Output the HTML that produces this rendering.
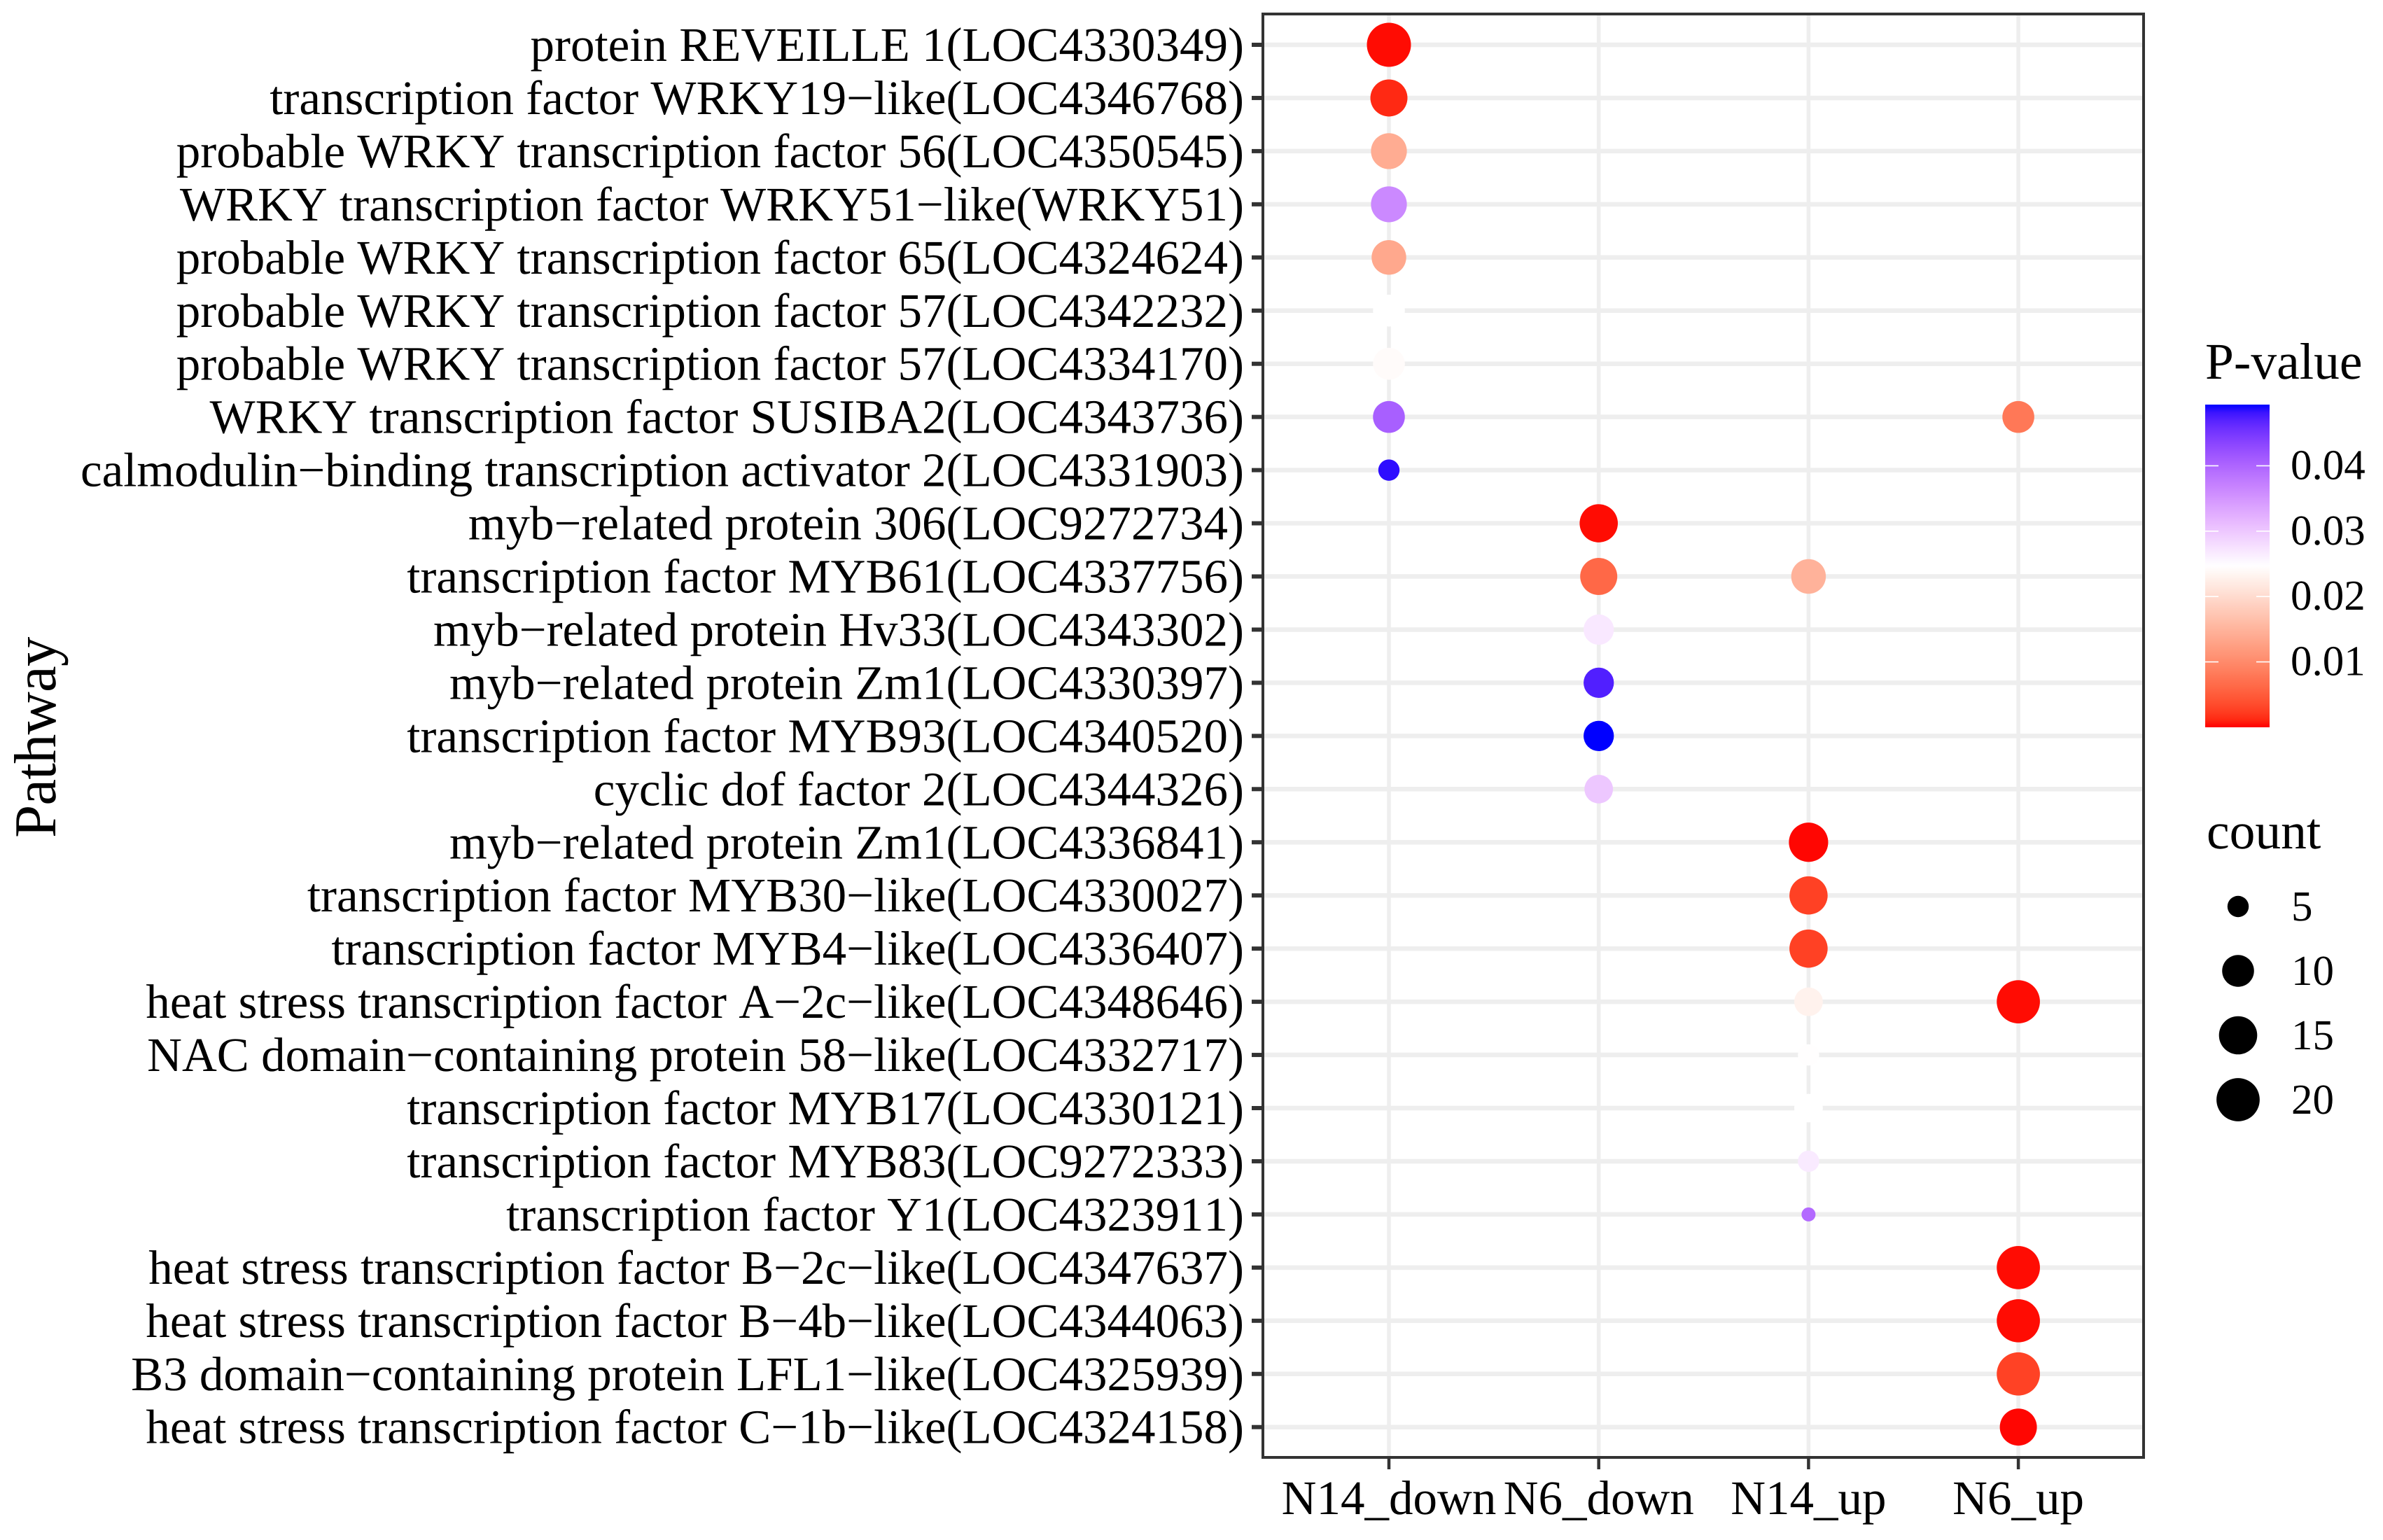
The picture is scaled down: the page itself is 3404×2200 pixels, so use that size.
<!DOCTYPE html>
<html lang="en">
<head>
<meta charset="utf-8">
<title>Pathway bubble chart</title>
<style>
  html, body { margin: 0; padding: 0; background: #fff; }
  svg { display: block; }
  text { font-family: "Liberation Serif", "Times New Roman", serif; fill: #000; text-rendering: geometricPrecision; }
  .nokern { font-kerning: none; }
</style>
</head>
<body>
<svg id="chart" xmlns="http://www.w3.org/2000/svg" width="3404" height="2200" viewBox="0 0 3404 2200">
  <rect x="0" y="0" width="3404" height="2200" fill="#ffffff"/>
  <g id="grid"></g>
  <g id="points"></g>
  <rect x="1804" y="20" width="1258" height="2062" fill="none" stroke="#333333" stroke-width="4"/>
  <g id="yaxis"></g>
  <g id="xaxis"></g>
  <text transform="translate(79,1197) rotate(-90)" font-size="85" letter-spacing="-0.9">Pathway</text>
  <text x="3150" y="541" font-size="73.5">P-value</text>
  <defs><linearGradient id="pGradient" x1="0" y1="1" x2="0" y2="0"></linearGradient></defs>
  <rect x="3150" y="578" width="92" height="461" fill="url(#pGradient)"/>
  <g id="colorLegend"></g>
  <text x="3152" y="1212" font-size="73.5">count</text>
  <g id="sizeLegend"></g>
</svg>
<script>
const pathways = [
  "protein REVEILLE 1(LOC4330349)",
  "transcription factor WRKY19\u2212like(LOC4346768)",
  "probable WRKY transcription factor 56(LOC4350545)",
  "WRKY transcription factor WRKY51\u2212like(WRKY51)",
  "probable WRKY transcription factor 65(LOC4324624)",
  "probable WRKY transcription factor 57(LOC4342232)",
  "probable WRKY transcription factor 57(LOC4334170)",
  "WRKY transcription factor SUSIBA2(LOC4343736)",
  "calmodulin\u2212binding transcription activator 2(LOC4331903)",
  "myb\u2212related protein 306(LOC9272734)",
  "transcription factor MYB61(LOC4337756)",
  "myb\u2212related protein Hv33(LOC4343302)",
  "myb\u2212related protein Zm1(LOC4330397)",
  "transcription factor MYB93(LOC4340520)",
  "cyclic dof factor 2(LOC4344326)",
  "myb\u2212related protein Zm1(LOC4336841)",
  "transcription factor MYB30\u2212like(LOC4330027)",
  "transcription factor MYB4\u2212like(LOC4336407)",
  "heat stress transcription factor A\u22122c\u2212like(LOC4348646)",
  "NAC domain\u2212containing protein 58\u2212like(LOC4332717)",
  "transcription factor MYB17(LOC4330121)",
  "transcription factor MYB83(LOC9272333)",
  "transcription factor Y1(LOC4323911)",
  "heat stress transcription factor B\u22122c\u2212like(LOC4347637)",
  "heat stress transcription factor B\u22124b\u2212like(LOC4344063)",
  "B3 domain\u2212containing protein LFL1\u2212like(LOC4325939)",
  "heat stress transcription factor C\u22121b\u2212like(LOC4324158)"
];
const groups = ["N14_down", "N6_down", "N14_up", "N6_up"];

// Row index (into pathways), count and P-value of each bubble, per group
const n14DownRows   = [0, 1, 2, 3, 4, 5, 6, 7, 8];
const n14DownCounts = [21, 14, 13, 13, 12, 10, 10, 10, 5];
const n14DownP      = [0.0002, 0.0012, 0.0140, 0.0362, 0.0135, 0.0246, 0.0241, 0.0406, 0.0485];

const n6DownRows   = [9, 10, 11, 12, 13, 14];
const n6DownCounts = [15, 14, 9, 9, 9, 8];
const n6DownP      = [0.0002, 0.0062, 0.0268, 0.0472, 0.0492, 0.0300];

const n14UpRows   = [10, 15, 16, 17, 18, 19, 20, 21, 22];
const n14UpCounts = [12, 16, 15, 15, 8, 5, 8, 5, 4];
const n14UpP      = [0.0148, 0.0001, 0.0027, 0.0027, 0.0229, 0.0245, 0.0246, 0.0266, 0.0394];

const n6UpRows   = [7, 18, 23, 24, 25, 26];
const n6UpCounts = [10, 20, 20, 20, 20, 14];
const n6UpP      = [0.0079, 0.0002, 0.0002, 0.0002, 0.0028, 0.0001];

const colorTicks = [0.04, 0.03, 0.02, 0.01];
const colorTickLabels = ["0.04", "0.03", "0.02", "0.01"];
const sizeTicks = [5, 10, 15, 20];

const NS = "http://www.w3.org/2000/svg";
function mk(parent, tag, attrs, txt) {
  const el = document.createElementNS(NS, tag);
  for (const k in attrs) el.setAttribute(k, attrs[k]);
  if (txt !== undefined) el.textContent = txt;
  parent.appendChild(el);
  return el;
}

// Axis functions
function xPos(groupIndex) { return 1984 + groupIndex * 299.7; }
function yPos(rowIndex) { return 64 + rowIndex * 75.95; }
function radius(count) {
  const t = Math.max(0, (count - 4) / 17);
  return 10 + Math.sqrt(t) * 21.5;
}
function legendY(p) { return 1039 - p * 9340; }

// Lab colour interpolation red -> white -> blue, as in a diverging gradient
const LAB_RED = [53.24, 80.09, 67.2];
const LAB_BLUE = [32.3, 79.19, -107.86];
const P_MID = 0.0246;
function labToHex(L, a, b) {
  const fy = (L + 16) / 116, fx = fy + a / 500, fz = fy - b / 200;
  const inv = f => (f * f * f > 0.008856 ? f * f * f : (f - 16 / 116) / 7.787);
  const X = 0.95047 * inv(fx), Y = inv(fy), Z = 1.08883 * inv(fz);
  const lin = [
    3.2406 * X - 1.5372 * Y - 0.4986 * Z,
    -0.9689 * X + 1.8758 * Y + 0.0415 * Z,
    0.0557 * X - 0.204 * Y + 1.057 * Z
  ];
  return "#" + lin.map(c => {
    c = Math.min(1, Math.max(0, c));
    const s = c <= 0.0031308 ? 12.92 * c : 1.055 * Math.pow(c, 1 / 2.4) - 0.055;
    return Math.round(s * 255).toString(16).padStart(2, "0");
  }).join("");
}
function pColor(p) {
  if (p <= P_MID) {
    const t = p / P_MID;
    return labToHex(
      LAB_RED[0] + (100 - LAB_RED[0]) * t,
      LAB_RED[1] * (1 - t),
      LAB_RED[2] * (1 - t)
    );
  }
  const u = Math.min(1, (p - P_MID) / P_MID);
  return labToHex(
    100 + (LAB_BLUE[0] - 100) * u,
    LAB_BLUE[1] * u + 10 * Math.sin(Math.PI * u),
    LAB_BLUE[2] * u
  );
}

// Gridlines
const grid = document.getElementById("grid");
pathways.forEach((name, i) => {
  const line = mk(grid, "line", { x1: 1804, x2: 3062, y1: yPos(i), y2: yPos(i), stroke: "#eeeeee", "stroke-width": 6.5 });
  
  
});
groups.forEach((g, i) => {
  const line = mk(grid, "line", { x1: xPos(i), x2: xPos(i), y1: 20, y2: 2082, stroke: "#eeeeee", "stroke-width": 5.5 });
  
  
});

// Bubbles
const pointsLayer = document.getElementById("points");
function drawGroup(groupIndex, rows, counts, pvals) {
  rows.forEach((row, j) => {
    const c = mk(pointsLayer, "circle", {
      cx: xPos(groupIndex), cy: yPos(row), r: radius(counts[j]), fill: pColor(pvals[j])
    });
    
    
  });
}
drawGroup(0, n14DownRows, n14DownCounts, n14DownP);
drawGroup(1, n6DownRows, n6DownCounts, n6DownP);
drawGroup(2, n14UpRows, n14UpCounts, n14UpP);
drawGroup(3, n6UpRows, n6UpCounts, n6UpP);

// Y axis
const yaxis = document.getElementById("yaxis");
pathways.forEach((name, i) => {
  const tick = mk(yaxis, "line", { x1: 1788, x2: 1804, y1: yPos(i), y2: yPos(i), stroke: "#333333", "stroke-width": 6 });
  
  
  const label = mk(yaxis, "text", { x: 1777, y: yPos(i) + 23, "text-anchor": "end", "font-size": 69, "class": "nokern" }, name);
  
  
});

// X axis
const xaxis = document.getElementById("xaxis");
groups.forEach((name, i) => {
  const tick = mk(xaxis, "line", { x1: xPos(i), x2: xPos(i), y1: 2082, y2: 2099, stroke: "#333333", "stroke-width": 4.5 });
  
  
  const label = mk(xaxis, "text", { x: xPos(i), y: 2163, "text-anchor": "middle", "font-size": 69 }, name);
  
  
});

// Colour legend
const gradient = document.getElementById("pGradient");
const P_MAX = 0.0493;
for (let s = 0; s <= 40; s++) {
  const p = P_MAX * s / 40;
  mk(gradient, "stop", { offset: (s / 40), "stop-color": pColor(p) });
}
const colorLegend = document.getElementById("colorLegend");
colorTicks.forEach((p, i) => {
  const y = legendY(p);
  const t1 = mk(colorLegend, "line", { x1: 3150, x2: 3169, y1: y, y2: y, stroke: "#ffffff", "stroke-width": 1.6 });
  
  
  const t2 = mk(colorLegend, "line", { x1: 3223, x2: 3242, y1: y, y2: y, stroke: "#ffffff", "stroke-width": 1.6 });
  
  
  const label = mk(colorLegend, "text", { x: 3272, y: y + 19, "font-size": 61 }, colorTickLabels[i]);
  
  
});

// Size legend
const sizeLegend = document.getElementById("sizeLegend");
sizeTicks.forEach((c, i) => {
  const y = 1295 + i * 92;
  const dot = mk(sizeLegend, "circle", { cx: 3197, cy: y, r: radius(c), fill: "#000000" });
  
  
  const label = mk(sizeLegend, "text", { x: 3273, y: y + 20, "font-size": 61 }, String(c));
  
  
});
</script>
</body>
</html>
